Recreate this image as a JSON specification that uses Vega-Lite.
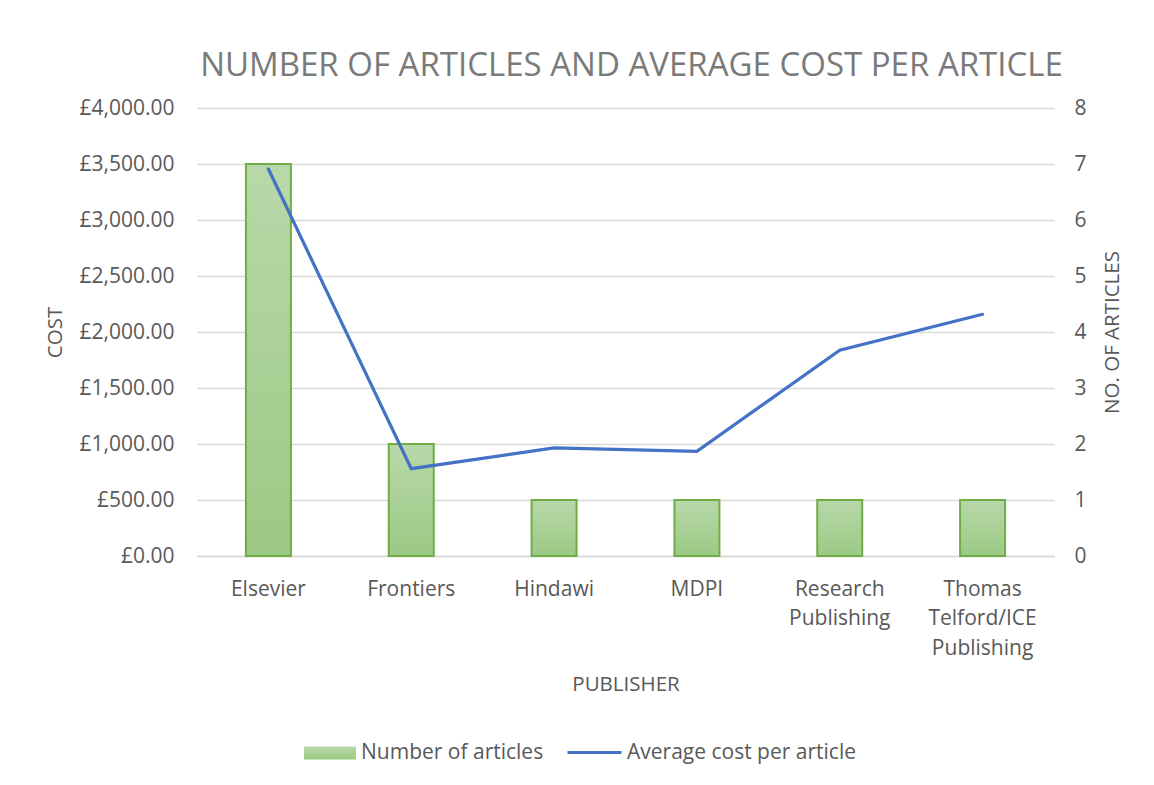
{
  "$schema": "https://vega.github.io/schema/vega-lite/v6.json",
  "width": 857,
  "height": 448,
  "autosize": {"type": "none"},
  "padding": {"left": 197, "top": 108, "right": 100, "bottom": 229},
  "background": "white",
  "title": {
    "text": "NUMBER OF ARTICLES AND AVERAGE COST PER ARTICLE",
    "anchor": "middle",
    "font": "Open Sans",
    "fontSize": 33,
    "fontWeight": "normal",
    "color": "#7a7a7a",
    "baseline": "middle",
    "offset": -2,
    "dx": 6
  },
  "data": {
    "values": [
      {"publisher": "Elsevier", "articles": 7, "cost": 3455},
      {"publisher": "Frontiers", "articles": 2, "cost": 780},
      {"publisher": "Hindawi", "articles": 1, "cost": 965},
      {"publisher": "MDPI", "articles": 1, "cost": 935},
      {"publisher": "Research Publishing", "articles": 1, "cost": 1838},
      {"publisher": "Thomas Telford/ICE Publishing", "articles": 1, "cost": 2158}
    ]
  },
  "encoding": {
    "x": {
      "field": "publisher",
      "type": "nominal",
      "sort": null,
      "scale": {"paddingInner": 0, "paddingOuter": 0},
      "axis": {
        "title": "PUBLISHER",
        "labelAngle": 0,
        "labelExpr": "datum.value == 'Research Publishing' ? ['Research','Publishing'] : datum.value == 'Thomas Telford/ICE Publishing' ? ['Thomas','Telford/ICE','Publishing'] : datum.label",
        "labelLineHeight": 29.5,
        "labelPadding": 22,
        "ticks": false,
        "domain": true,
        "domainColor": "#d9d9d9",
        "domainWidth": 1.5,
        "titleY": 128,
        "titleBaseline": "middle"
      }
    }
  },
  "layer": [
    {
      "mark": {
        "type": "bar",
        "size": 45,
        "fill": {"gradient": "linear", "x1": 0, "y1": 0, "x2": 0, "y2": 1, "stops": [{"offset": 0, "color": "#b8d8a9"}, {"offset": 1, "color": "#9cc985"}]},
        "stroke": "#70ad47",
        "strokeWidth": 2
      },
      "encoding": {
        "y": {
          "field": "articles",
          "type": "quantitative",
          "scale": {"domain": [0, 8]},
          "axis": {
            "orient": "right",
            "title": "NO. OF ARTICLES",
            "values": [0, 1, 2, 3, 4, 5, 6, 7, 8],
            "grid": false,
            "domain": false,
            "ticks": false,
            "labelPadding": 20,
            "titleAngle": -90,
            "titleX": 58,
            "titleY": 224,
            "titleBaseline": "middle",
            "titleAlign": "center"
          }
        },
        "opacity": {
          "datum": "Number of articles",
          "type": "nominal",
          "scale": {"domain": ["Number of articles"], "range": [1]},
          "legend": {
            "title": null,
            "orient": "none",
            "legendX": 106,
            "legendY": 618,
            "symbolType": "M-1,-0.25H1V0.25H-1Z",
            "symbolSize": 2704,
            "symbolFillColor": "#aad08f",
            "symbolStrokeColor": "#70ad47",
            "symbolStrokeWidth": 2,
            "labelOffset": 4,
            "encode": {
              "symbols": {
                "enter": {
                  "stroke": {"value": "#70ad47"},
                  "strokeWidth": {"value": 2},
                  "strokeOpacity": {"value": 1}
                },
                "update": {
                  "stroke": {"value": "#70ad47"},
                  "strokeWidth": {"value": 2},
                  "strokeOpacity": {"value": 1}
                }
              }
            }
          }
        }
      }
    },
    {
      "mark": {
        "type": "line",
        "strokeWidth": 3.2,
        "strokeCap": "round",
        "strokeJoin": "miter"
      },
      "encoding": {
        "y": {
          "field": "cost",
          "type": "quantitative",
          "scale": {"domain": [0, 4000]},
          "axis": {
            "orient": "left",
            "title": "COST",
            "values": [0, 500, 1000, 1500, 2000, 2500, 3000, 3500, 4000],
            "labelExpr": "'£' + format(datum.value, ',.2f')",
            "grid": true,
            "gridColor": "#d9d9d9",
            "gridWidth": 1.5,
            "domain": false,
            "ticks": false,
            "labelPadding": 23,
            "titleX": -142,
            "titleY": 224,
            "titleBaseline": "middle",
            "titleAlign": "center"
          }
        },
        "stroke": {
          "datum": "Average cost per article",
          "type": "nominal",
          "scale": {"domain": ["Average cost per article"], "range": ["#4472c4"]},
          "legend": {
            "title": null,
            "orient": "none",
            "legendX": 369,
            "legendY": 616,
            "symbolType": "stroke",
            "symbolSize": 2916,
            "symbolStrokeWidth": 3,
            "labelOffset": 4
          }
        }
      }
    }
  ],
  "resolve": {"scale": {"y": "independent", "opacity": "independent", "stroke": "independent"}},
  "config": {
    "view": {"stroke": null},
    "font": "Open Sans",
    "axis": {
      "labelFont": "Open Sans",
      "labelFontSize": 21,
      "labelColor": "#595959",
      "titleFont": "Open Sans",
      "titleFontSize": 20.5,
      "titleFontWeight": "normal",
      "titleColor": "#595959"
    },
    "legend": {
      "labelFont": "Open Sans",
      "labelFontSize": 21,
      "labelColor": "#595959",
      "labelLimit": 400
    }
  }
}
